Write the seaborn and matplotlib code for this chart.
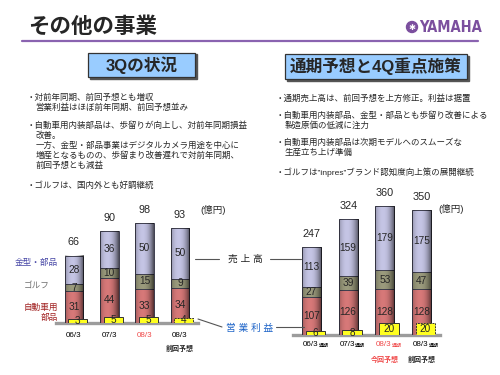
import numpy as np
import seaborn as sns
from matplotlib import pyplot as plt
from matplotlib.patches import Rectangle, Ellipse
from matplotlib.lines import Line2D

sns.set_style("white")
plt.rcParams['font.family'] = ['Liberation Sans', 'Noto Sans CJK JP']

# 3Q (quarter) figures, 億円
q_keys = ["06/3", "07/3", "08/3", "08/3 prev"]
q_ticks = ["06/3", "07/3", "08/3", "08/3"]
q_auto = [31, 44, 33, 34]
q_golf = [7, 10, 15, 9]
q_mold = [28, 36, 50, 50]
q_total = [66, 90, 98, 93]
q_op = [3, 5, 5, 4]

# full year figures, 億円
y_keys = ["06/3", "07/3", "08/3 now", "08/3 prev"]
y_ticks = ["06/3", "07/3", "08/3", "08/3"]
y_auto = [107, 126, 128, 128]
y_golf = [27, 39, 53, 47]
y_mold = [113, 159, 179, 175]
y_total = [247, 324, 360, 350]
y_op = [6, 8, 20, 20]

left_bullets = [
    "・対前年同期、前回予想とも増収",
    "営業利益はほぼ前年同期、前回予想並み",
    "・自動車用内装部品は、歩留りが向上し、対前年同期損益",
    "改善。",
    "一方、金型・部品事業はデジタルカメラ用途を中心に",
    "増産となるものの、歩留まり改善遅れで対前年同期、",
    "前回予想とも減益",
    "・ゴルフは、国内外とも好調継続",
]
right_bullets = [
    "・通期売上高は、前回予想を上方修正。利益は据置",
    "・自動車用内装部品、金型・部品とも歩留り改善による",
    "製造原価の低減に注力",
    "・自動車用内装部品は次期モデルへのスムーズな",
    "生産立ち上げ準備",
    "・ゴルフは”inpres”ブランド認知度向上策の展開継続",
]

C_MOLD = "#C4C4E4"
C_GOLF = "#9A9A7C"
C_AUTO = "#D67878"
EDGE = "#3E3E4E"
RED = "#F04848"
W, H = 500, 375


def fx(x):
    return x / W


def fy(y):
    return 1 - y / H


fig = plt.figure(figsize=(5, 3.75), dpi=100)

# cylinder-ish shading for bars
t = np.linspace(0, 1, 64)
shade = np.zeros((1, 64, 4))
shade[0, :, 3] = 0.62 * (np.abs(t - 0.4) / 0.6) ** 2.2


def draw_chart(ax, keys, auto, golf, mold, total, op, ymax, opmax):
    mid = [a + g for a, g in zip(auto, golf)]
    for k, vals, col in [(0, total, C_MOLD), (1, mid, C_GOLF), (2, auto, C_AUTO)]:
        n0 = len(ax.patches)
        sns.barplot(x=keys, y=vals, color=col, saturation=1, width=0.52,
                    edgecolor=EDGE, linewidth=0.7, errorbar=None,
                    zorder=2 + k, ax=ax)
        for p in ax.patches[n0:]:
            x0, y0 = p.get_x(), p.get_y()
            im = ax.imshow(shade, extent=[x0, x0 + p.get_width(), y0, y0 + p.get_height()],
                           aspect='auto', interpolation='bilinear', zorder=2.5 + k)
            im.set_clip_path(p)

    for i in range(len(keys)):
        ax.text(i, auto[i] / 2, str(auto[i]), ha='center', va='center', fontsize=7.3, zorder=10)
        ax.text(i, auto[i] + golf[i] / 2, str(golf[i]), ha='center', va='center', fontsize=7.3, zorder=10)
        ax.text(i, mid[i] + mold[i] / 2, str(mold[i]), ha='center', va='center', fontsize=7.3, zorder=10)
        ax.annotate(str(total[i]), (i, total[i]), xytext=(0, 13), textcoords='offset pixels',
                    ha='center', va='center', fontsize=7.8, annotation_clip=False)

    ax.set_xlim(-0.75, len(keys) - 0.25)
    ax.set_ylim(0, ymax)
    for s in ['top', 'right', 'left']:
        ax.spines[s].set_visible(False)
    ax.spines['bottom'].set_color('#9C9C9C')
    ax.spines['bottom'].set_linewidth(2.4)
    ax.spines['bottom'].set_bounds(-0.5, len(keys) - 0.5)
    ax.set_xticks(np.arange(len(keys) + 1) - 0.5, labels=[''] * (len(keys) + 1))
    ax.tick_params(axis='x', length=3, width=0.8, color='#8A8A8A', direction='out')
    ax.set_yticks([])
    ax.set_xlabel('')
    ax.set_ylabel('')
    ax.patch.set_alpha(0)

    # operating profit on its own scale
    axp = ax.twinx()
    xs = np.arange(len(keys)) + 0.11
    bars = axp.bar(xs, op, width=0.54, color='#FFFF20', edgecolor='#333333', linewidth=0.7, zorder=8)
    bars[-1].set_linestyle((0, (2, 1)))
    for x, v in zip(xs, op):
        axp.text(x, v / 2, str(v), ha='center', va='center', fontsize=7.2, zorder=11)
    axp.set_ylim(0, opmax)
    axp.set_xlim(ax.get_xlim())
    axp.set_yticks([])
    axp.set_ylabel('')
    for s in axp.spines.values():
        s.set_visible(False)
    return axp


ax1 = fig.add_axes([fx(47.5), fy(322.7), 159 / W, 112 / H])
draw_chart(ax1, q_keys, q_auto, q_golf, q_mold, q_total, q_op, 110, 95)
for i, lab in enumerate(q_ticks):
    ax1.annotate(lab, (i, 0), xytext=(0, -13), textcoords='offset pixels', ha='center', va='center',
                 fontsize=5.8, color=RED if i == 2 else 'black', annotation_clip=False)
ax1.annotate("前回予想", (3, 0), xytext=(0, -27), textcoords='offset pixels', ha='center', va='center',
             fontsize=5, fontweight='bold', annotation_clip=False)

ax2 = fig.add_axes([fx(284), fy(335), 165 / W, 143 / H])
draw_chart(ax2, y_keys, y_auto, y_golf, y_mold, y_total, y_op, 400, 240)
for i, lab in enumerate(y_ticks):
    c = RED if i == 2 else 'black'
    ax2.annotate(lab, (i, 0), xytext=(7, -10), textcoords='offset pixels', ha='right', va='center',
                 fontsize=5.8, color=c, annotation_clip=False)
    ax2.annotate("通期", (i, 0), xytext=(7, -10), textcoords='offset pixels', ha='left', va='center',
                 fontsize=3.6, color=c, annotation_clip=False)
ax2.annotate("今回予想", (2, 0), xytext=(0, -25), textcoords='offset pixels', ha='center', va='center',
             fontsize=5, fontweight='bold', color=RED, annotation_clip=False)
ax2.annotate("前回予想", (3, 0), xytext=(0, -25), textcoords='offset pixels', ha='center', va='center',
             fontsize=5, fontweight='bold', annotation_clip=False)

# title, logo, rule
fig.text(fx(28), fy(27), "その他の事業", fontsize=15.5, fontweight='bold', va='center')
fig.add_artist(Line2D([fx(22), fx(478)], [fy(41), fy(41)], color='#8A63B0', lw=1.6))
fig.add_artist(Ellipse((fx(412), fy(27)), 11 / W, 11 / H, color='#7B4F9E'))
fig.text(fx(412), fy(27.5), "✱", family='DejaVu Sans', fontsize=6, color='white', ha='center', va='center')
fig.text(fx(419), fy(27), "YAMAHA", family='DejaVu Sans', fontstretch='condensed', fontweight='bold',
         fontsize=10.5, color='#7B4F9E', va='center')

# section boxes
for x0, y0, x1, y1, txt in [(88, 53, 195, 77, "3Qの状況"), (285, 54, 467, 79, "通期予想と4Q重点施策")]:
    fig.add_artist(Rectangle((fx(x0 + 1.5), fy(y1 + 1.5)), (x1 - x0) / W, (y1 - y0) / H,
                             transform=fig.transFigure, color='#555555'))
    fig.add_artist(Rectangle((fx(x0), fy(y1)), (x1 - x0) / W, (y1 - y0) / H, transform=fig.transFigure,
                             facecolor='#99CCFF', edgecolor='#333333', lw=0.9))
    fig.text(fx((x0 + x1) / 2), fy((y0 + y1) / 2), txt, fontsize=12, fontweight='bold', ha='center', va='center')

# bullet texts
for txt, x, y in zip(left_bullets, [27, 35.5, 27, 35.5, 35.5, 35.5, 35.5, 27],
                     [98, 108, 126, 136, 146, 156, 166, 186]):
    fig.text(fx(x), fy(y), txt, fontsize=6.1, va='center')
for txt, x, y in zip(right_bullets, [276, 276, 285, 276, 285, 276], [98, 116, 126, 143, 153, 172]):
    fig.text(fx(x), fy(y), txt, fontsize=6.1, va='center')

# series labels and connectors
fig.text(fx(58), fy(262), "金型・部品", fontsize=6.2, color='#4545A5', ha='right', va='center')
fig.text(fx(50), fy(285), "ゴルフ", fontsize=6.2, color='#707070', ha='right', va='center')
fig.text(fx(58), fy(307), "自動車用", fontsize=6.2, color='#A02020', ha='right', va='center')
fig.text(fx(58), fy(317), "部品", fontsize=6.2, color='#A02020', ha='right', va='center')
fig.text(fx(213), fy(210), "(億円)", fontsize=6.8, ha='center', va='center')
fig.text(fx(451), fy(209), "(億円)", fontsize=6.8, ha='center', va='center')

fig.text(fx(245), fy(259), "売 上 高", fontsize=7, ha='center', va='center', color='#222222')
fig.add_artist(Line2D([fx(195), fx(219)], [fy(259), fy(259)], color='#555555', lw=0.8))
fig.add_artist(Line2D([fx(270), fx(301)], [fy(259), fy(259)], color='#555555', lw=0.8))
fig.text(fx(250), fy(327.5), "営 業 利 益", fontsize=7, ha='center', va='center', color='#1E64C8')
fig.add_artist(Line2D([fx(198), fx(222)], [fy(319), fy(327)], color='#555555', lw=0.8))
fig.add_artist(Line2D([fx(276), fx(304)], [fy(327), fy(327)], color='#555555', lw=0.8))

fig.savefig("out.png", dpi=100)
